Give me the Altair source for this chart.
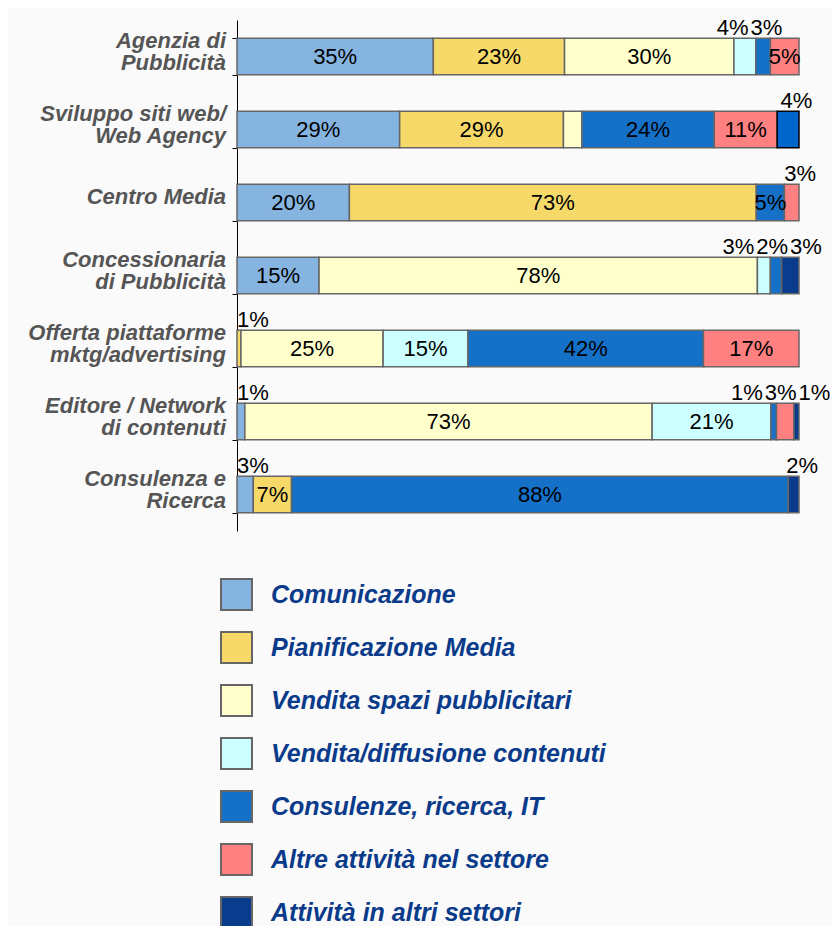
import altair as alt
import pandas as pd

categories = [
    "Agenzia di\nPubblicità",
    "Sviluppo siti web/\nWeb Agency",
    "Centro Media",
    "Concessionaria\ndi Pubblicità",
    "Offerta piattaforme\nmktg/advertising",
    "Editore / Network\ndi contenuti",
    "Consulenza e\nRicerca",
]

series = [
    "Comunicazione",
    "Pianificazione Media",
    "Vendita spazi pubblicitari",
    "Vendita/diffusione contenuti",
    "Consulenze, ricerca, IT",
    "Altre attività nel settore",
    "Attività in altri settori",
]
colors = ["#86B4E0", "#F7D96A", "#FFFFCC", "#CCFFFF", "#1570C8", "#FF8080", "#0B3B8C"]

# segment values (%) per category
comunicazione     = [35.0, 29.0, 20.0, 14.6, 0.0, 1.4, 2.9]
pianificazione    = [23.4, 29.2, 72.4, 0.0, 0.7, 0.0, 6.8]
vendita_spazi     = [30.2, 3.3, 0.0, 78.0, 25.3, 72.4, 0.0]
vendita_contenuti = [3.9, 0.0, 0.0, 2.3, 15.1, 21.1, 0.0]
consulenze        = [2.6, 23.6, 5.0, 2.0, 41.9, 1.0, 88.4]
altre_settore     = [5.1, 11.2, 2.6, 0.0, 17.0, 3.1, 0.0]
altri_settori     = [0.0, 3.9, 0.0, 3.1, 0.0, 0.9, 1.9]

# label text shown for each segment ("" = no label)
lab_comunicazione     = ["35%", "29%", "20%", "15%", "", "1%", "3%"]
lab_pianificazione    = ["23%", "29%", "73%", "", "1%", "", "7%"]
lab_vendita_spazi     = ["30%", "", "", "78%", "25%", "73%", ""]
lab_vendita_contenuti = ["4%", "", "", "3%", "15%", "21%", ""]
lab_consulenze        = ["3%", "24%", "5%", "2%", "42%", "1%", "88%"]
lab_altre_settore     = ["5%", "11%", "3%", "", "17%", "3%", ""]
lab_altri_settori     = ["", "4%", "", "3%", "", "1%", "2%"]

values = [comunicazione, pianificazione, vendita_spazi, vendita_contenuti,
          consulenze, altre_settore, altri_settori]
labels = [lab_comunicazione, lab_pianificazione, lab_vendita_spazi,
          lab_vendita_contenuti, lab_consulenze, lab_altre_settore, lab_altri_settori]

rows = []
for ci, cat in enumerate(categories):
    total = sum(v[ci] for v in values)
    start = 0.0
    for si, s in enumerate(series):
        v = values[si][ci] / total * 100.0
        if v > 0:
            rows.append(dict(cat=cat, series=s, order=si, x0=start, x1=start + v,
                             mid=start + v / 2, value=v, label=labels[si][ci],
                             special=(ci == 1 and si == 6)))
        start += v
df = pd.DataFrame(rows)

lab = df[df["label"] != ""]
inside = lab[lab["value"] >= 4.5]
outside = lab[lab["value"] < 4.5]
left_out = outside[outside["x0"] < 10].copy()
right_out = outside[outside["x0"] >= 10].copy()

# spread consecutive small labels above the right end of the bar
pos = []
for cat, grp in right_out.groupby("cat", sort=False):
    n = len(grp)
    m = grp["mid"].mean()
    for i in range(n):
        pos.append(m + (i - (n - 1) / 2) * 6.0 + (1.5 if n == 1 else -0.8))
right_out["pos"] = pos

cat_df = pd.DataFrame({"cat": categories})
one_line = cat_df[~cat_df["cat"].str.contains("\n")]
two_line = cat_df[cat_df["cat"].str.contains("\n")]

FONT = "Liberation Sans"

yscale = alt.Scale(paddingInner=0.5, paddingOuter=0.25)
yenc = alt.Y(
    "cat:N", sort=categories, scale=yscale,
    axis=alt.Axis(
        title=None, labels=False,
        tickBand="extent", tickSize=5, tickColor="black", domainColor="black",
        tickWidth=1, domainWidth=1,
    ),
)
xscale = alt.Scale(domain=[0, 100], nice=False, zero=True)

bars = alt.Chart(df).mark_bar(strokeWidth=1.5).encode(
    y=yenc,
    x=alt.X("x0:Q", scale=xscale, axis=None),
    x2="x1:Q",
    color=alt.condition(
        "datum.special",
        alt.value("#0066CC"),
        alt.Color(
            "series:N",
            scale=alt.Scale(domain=series, range=colors),
            legend=alt.Legend(
                title=None, orient="none", legendX=-17, legendY=558,
                direction="vertical", symbolType="square", symbolSize=960,
                symbolStrokeColor="#666666", symbolStrokeWidth=2,
                labelFont=FONT, labelFontSize=25, labelFontWeight="bold",
                labelFontStyle="italic", labelColor="#0A3A8A",
                labelOffset=18, rowPadding=14, padding=0, labelLimit=600,
                symbolOpacity=1,
            ),
        ),
    ),
    stroke=alt.condition("datum.special", alt.value("#000000"), alt.value("#666666")),
)

ylab_style = dict(font=FONT, fontSize=22, fontWeight="bold", fontStyle="italic",
                  color="#555555", align="right", baseline="middle",
                  lineBreak="\n", lineHeight=22, dx=-11)

ylab1 = alt.Chart(one_line).mark_text(dy=-6, **ylab_style).encode(
    y=alt.Y("cat:N", sort=categories), x=alt.datum(0), text="cat:N")
ylab2 = alt.Chart(two_line).mark_text(dy=-16, **ylab_style).encode(
    y=alt.Y("cat:N", sort=categories), x=alt.datum(0), text="cat:N")

txt_inside = alt.Chart(inside).mark_text(
    font=FONT, fontSize=22, color="black", baseline="middle", align="center"
).encode(y=alt.Y("cat:N", sort=categories), x=alt.X("mid:Q", scale=xscale), text="label:N")

txt_left = alt.Chart(left_out).mark_text(
    font=FONT, fontSize=22, color="black", baseline="bottom", align="left", dy=-17
).encode(y=alt.Y("cat:N", sort=categories), x=alt.X("x0:Q", scale=xscale), text="label:N")

txt_right = alt.Chart(right_out).mark_text(
    font=FONT, fontSize=22, color="black", baseline="bottom", align="center", dy=-17
).encode(y=alt.Y("cat:N", sort=categories), x=alt.X("pos:Q", scale=xscale), text="label:N")

chart = alt.layer(bars, ylab1, ylab2, txt_inside, txt_left, txt_right).properties(
    width=562, height=511,
    padding={"left": 229, "top": 12, "right": 33, "bottom": 395},
    autosize="none",
    background="#FAFAFA",
).configure_view(stroke=None)

chart.save("out.html", embed_options={"renderer": "svg", "actions": False})
